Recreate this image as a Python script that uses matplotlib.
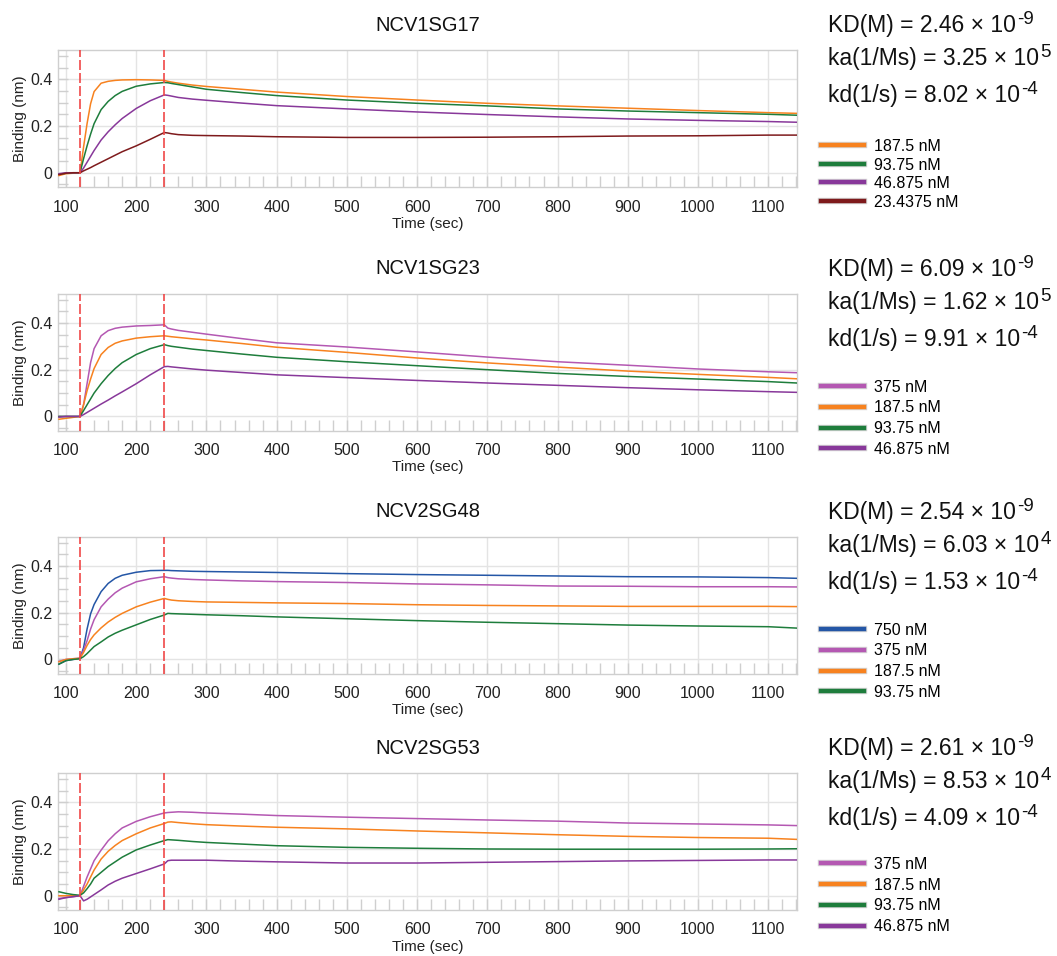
import matplotlib
matplotlib.use("Agg")
import matplotlib.pyplot as plt
import matplotlib.patheffects as pe
from matplotlib.lines import Line2D
from matplotlib.ticker import MultipleLocator

plt.rcParams['font.family'] = ['Liberation Sans', 'DejaVu Sans']

# ---------------- data ----------------
T = [90, 100, 110, 120, 125, 130, 135, 140, 150, 160, 170, 180, 200, 220, 240,
     245, 250, 260, 280, 300, 350, 400, 500, 600, 700, 800, 900, 1000, 1100, 1141]

titles = ["NCV1SG17", "NCV1SG23", "NCV2SG48", "NCV2SG53"]

kd_lines = [
    ("KD(M) = 2.46 \u00d7 10", "-9", "ka(1/Ms) = 3.25 \u00d7 10", "5", "kd(1/s) = 8.02 \u00d7 10", "-4"),
    ("KD(M) = 6.09 \u00d7 10", "-9", "ka(1/Ms) = 1.62 \u00d7 10", "5", "kd(1/s) = 9.91 \u00d7 10", "-4"),
    ("KD(M) = 2.54 \u00d7 10", "-9", "ka(1/Ms) = 6.03 \u00d7 10", "4", "kd(1/s) = 1.53 \u00d7 10", "-4"),
    ("KD(M) = 2.61 \u00d7 10", "-9", "ka(1/Ms) = 8.53 \u00d7 10", "4", "kd(1/s) = 4.09 \u00d7 10", "-4"),
]

# panel 1: NCV1SG17
p1_labels = ["187.5 nM", "93.75 nM", "46.875 nM", "23.4375 nM"]
p1_orange = [-0.012, -0.004, -0.002, 0.0, 0.11, 0.21, 0.295, 0.347, 0.383, 0.391, 0.395, 0.397, 0.398, 0.397, 0.395,
             0.391, 0.388, 0.383, 0.375, 0.369, 0.357, 0.345, 0.326, 0.311, 0.297, 0.286, 0.276, 0.266, 0.257, 0.254]
p1_green = [-0.006, -0.002, 0.0, 0.0, 0.06, 0.115, 0.165, 0.21, 0.27, 0.305, 0.33, 0.348, 0.37, 0.38, 0.386,
            0.385, 0.382, 0.377, 0.367, 0.357, 0.343, 0.33, 0.311, 0.297, 0.286, 0.273, 0.264, 0.257, 0.25, 0.246]
p1_purple = [-0.004, 0.0, 0.0, 0.0, 0.02, 0.045, 0.07, 0.095, 0.14, 0.175, 0.205, 0.232, 0.275, 0.308, 0.333,
             0.331, 0.328, 0.322, 0.315, 0.31, 0.298, 0.287, 0.273, 0.26, 0.249, 0.239, 0.23, 0.224, 0.219, 0.216]
p1_darkred = [-0.008, -0.002, 0.0, 0.0, 0.008, 0.015, 0.022, 0.03, 0.045, 0.06, 0.075, 0.09, 0.115, 0.143, 0.172,
              0.17, 0.167, 0.163, 0.16, 0.159, 0.157, 0.154, 0.151, 0.151, 0.152, 0.154, 0.157, 0.158, 0.161, 0.161]

# panel 2: NCV1SG23
p2_labels = ["375 nM", "187.5 nM", "93.75 nM", "46.875 nM"]
p2_magenta = [0.0, 0.0, 0.0, 0.0, 0.05, 0.14, 0.23, 0.29, 0.345, 0.367, 0.377, 0.382, 0.387, 0.389, 0.392,
              0.378, 0.374, 0.368, 0.36, 0.352, 0.333, 0.315, 0.297, 0.276, 0.254, 0.234, 0.219, 0.203, 0.191, 0.187]
p2_orange = [-0.012, -0.008, -0.004, 0.0, 0.05, 0.11, 0.16, 0.205, 0.265, 0.295, 0.313, 0.323, 0.335, 0.341, 0.345,
             0.343, 0.341, 0.338, 0.332, 0.327, 0.312, 0.296, 0.274, 0.25, 0.229, 0.211, 0.194, 0.18, 0.167, 0.161]
p2_green = [0.0, 0.0, 0.0, 0.0, 0.025, 0.05, 0.075, 0.1, 0.14, 0.175, 0.205, 0.23, 0.265, 0.29, 0.307,
            0.303, 0.3, 0.296, 0.288, 0.282, 0.267, 0.253, 0.234, 0.217, 0.2, 0.184, 0.171, 0.16, 0.149, 0.143]
p2_purple = [-0.003, 0.0, 0.0, 0.0, 0.008, 0.017, 0.026, 0.035, 0.053, 0.07, 0.088, 0.105, 0.14, 0.178, 0.213,
             0.214, 0.212, 0.209, 0.203, 0.198, 0.188, 0.178, 0.166, 0.154, 0.143, 0.133, 0.123, 0.114, 0.106, 0.103]

# panel 3: NCV2SG48
p3_labels = ["750 nM", "375 nM", "187.5 nM", "93.75 nM"]
p3_blue = [-0.02, -0.005, 0.0, 0.005, 0.05, 0.13, 0.195, 0.235, 0.29, 0.325, 0.347, 0.36, 0.373, 0.38, 0.381,
           0.381, 0.38, 0.379, 0.377, 0.376, 0.374, 0.372, 0.367, 0.363, 0.36, 0.357, 0.354, 0.353, 0.35, 0.347]
p3_magenta = [-0.008, 0.0, 0.003, 0.005, 0.04, 0.08, 0.13, 0.17, 0.225, 0.258, 0.285, 0.305, 0.332, 0.345, 0.354,
              0.35, 0.348, 0.345, 0.342, 0.34, 0.336, 0.333, 0.329, 0.323, 0.319, 0.314, 0.313, 0.311, 0.311, 0.31]
p3_orange = [-0.01, 0.0, 0.003, 0.005, 0.03, 0.06, 0.085, 0.105, 0.135, 0.16, 0.18, 0.197, 0.225, 0.245, 0.261,
             0.257, 0.254, 0.251, 0.248, 0.246, 0.244, 0.242, 0.239, 0.234, 0.231, 0.229, 0.227, 0.227, 0.227, 0.226]
p3_green = [-0.02, -0.005, 0.0, 0.003, 0.012, 0.025, 0.04, 0.055, 0.075, 0.096, 0.112, 0.125, 0.148, 0.171, 0.19,
            0.197, 0.196, 0.195, 0.193, 0.191, 0.187, 0.182, 0.174, 0.166, 0.159, 0.153, 0.147, 0.143, 0.14, 0.134]

# panel 4: NCV2SG53
p4_labels = ["375 nM", "187.5 nM", "93.75 nM", "46.875 nM"]
p4_magenta = [-0.012, -0.008, -0.004, 0.0, 0.04, 0.08, 0.115, 0.15, 0.195, 0.235, 0.265, 0.29, 0.318, 0.338, 0.354,
              0.356, 0.357, 0.359, 0.357, 0.354, 0.349, 0.343, 0.336, 0.33, 0.324, 0.319, 0.311, 0.307, 0.303, 0.3]
p4_orange = [0.0, 0.0, 0.0, 0.0, 0.025, 0.05, 0.08, 0.11, 0.157, 0.19, 0.215, 0.236, 0.265, 0.29, 0.309,
             0.315, 0.316, 0.313, 0.308, 0.304, 0.298, 0.293, 0.286, 0.277, 0.269, 0.261, 0.254, 0.249, 0.246, 0.241]
p4_green = [0.017, 0.01, 0.005, 0.002, 0.012, 0.03, 0.05, 0.075, 0.1, 0.125, 0.145, 0.165, 0.196, 0.217, 0.236,
            0.24, 0.239, 0.237, 0.232, 0.228, 0.221, 0.214, 0.207, 0.203, 0.2, 0.199, 0.199, 0.199, 0.2, 0.201]
p4_purple = [-0.015, -0.008, -0.004, 0.0, -0.022, -0.015, -0.005, 0.005, 0.025, 0.046, 0.062, 0.075, 0.095, 0.115, 0.136,
             0.15, 0.152, 0.152, 0.152, 0.152, 0.148, 0.145, 0.14, 0.14, 0.143, 0.146, 0.149, 0.151, 0.153, 0.153]

# ---------------- style ----------------
C_ORANGE = "#F7821F"
C_GREEN = "#1E7D3C"
C_PURPLE = "#88389A"
C_MAGENTA = "#B458B2"
C_DARKRED = "#7E1A1C"
C_BLUE = "#2456A6"

panels = [
    (p1_labels, [p1_orange, p1_green, p1_purple, p1_darkred], [C_ORANGE, C_GREEN, C_PURPLE, C_DARKRED]),
    (p2_labels, [p2_magenta, p2_orange, p2_green, p2_purple], [C_MAGENTA, C_ORANGE, C_GREEN, C_PURPLE]),
    (p3_labels, [p3_blue, p3_magenta, p3_orange, p3_green], [C_BLUE, C_MAGENTA, C_ORANGE, C_GREEN]),
    (p4_labels, [p4_magenta, p4_orange, p4_green, p4_purple], [C_MAGENTA, C_ORANGE, C_GREEN, C_PURPLE]),
]

W, H = 1057, 956
fig = plt.figure(figsize=(W / 100, H / 100), dpi=100)

ax_tops = [50, 293.7, 536.7, 773]
ax_h = 137
ax_left, ax_right = 58, 797
legend_offsets = [89, 86, 86, 84]
legend_spacing = [0.22, 0.36, 0.36, 0.36]

GRID = "#e4e4e4"
SPINE = "#cfcfcf"

renderer = fig.canvas.get_renderer()

for i, (labels, series, colors) in enumerate(panels):
    top = ax_tops[i]
    ax = fig.add_axes([ax_left / W, 1 - (top + ax_h) / H, (ax_right - ax_left) / W, ax_h / H])
    for ys, c in zip(series, colors):
        ax.plot(T, ys, color=c, lw=1.1, zorder=3)
    ax.axvline(120, color="#F04848", lw=1.2, ls=(0, (6, 1.8)), zorder=4)
    ax.axvline(240, color="#F04848", lw=1.2, ls=(0, (6, 1.8)), zorder=4)

    ax.set_xlim(88.6, 1141)
    ax.set_ylim(-0.061, 0.525)
    ax.set_xticks(range(100, 1101, 100))
    ax.set_yticks([0, 0.2, 0.4])
    ax.set_yticklabels(["0", "0.2", "0.4"])
    ax.xaxis.set_minor_locator(MultipleLocator(20))
    ax.yaxis.set_minor_locator(MultipleLocator(0.05))
    ax.grid(True, which="major", color=GRID, lw=1.0, zorder=0)
    ax.tick_params(which="both", direction="in", color=SPINE, top=False, right=False)
    ax.tick_params(axis="x", which="both", length=8, width=1)
    ax.tick_params(axis="y", which="both", length=7, width=1)
    ax.tick_params(axis="x", which="major", pad=9, labelsize=11.5, labelcolor="#222222")
    ax.tick_params(axis="y", which="major", pad=4, labelsize=11.5, labelcolor="#222222")
    for s in ax.spines.values():
        s.set_color(SPINE)
        s.set_linewidth(1.0)
    ax.set_xlabel("Time (sec)", fontsize=11, labelpad=1.5, color="#222222")
    ax.set_ylabel("Binding (nm)", fontsize=11, labelpad=2, color="#222222")
    ax.set_title(titles[i], fontsize=14.5, pad=14, color="#111111")

    # legend
    handles = [Line2D([0], [0], color=c, lw=3.2,
                      path_effects=[pe.Stroke(linewidth=4.6, foreground="#d4d4d4"), pe.Normal()])
               for c in colors]
    fig.legend(handles, labels, loc="upper left",
               bbox_to_anchor=(821 / W, 1 - (top + legend_offsets[i]) / H),
               frameon=False, fontsize=11.5, handlelength=2.7, handletextpad=0.6,
               labelspacing=legend_spacing[i], borderpad=0, borderaxespad=0)

    # kinetic constants
    kl = kd_lines[i]
    baselines = [top - 18, top + 15, top + 52]
    for j in range(3):
        main, sup = kl[2 * j], kl[2 * j + 1]
        yb = 1 - baselines[j] / H
        t = fig.text(828 / W, yb, main, fontsize=16.5, va="baseline", ha="left", color="#111111")
        bb = t.get_window_extent(renderer)
        fig.text((bb.x1 + 1.5) / W, yb + 8 / H, sup, fontsize=13.5, va="baseline", ha="left", color="#111111")

fig.savefig("out.png", dpi=100)
